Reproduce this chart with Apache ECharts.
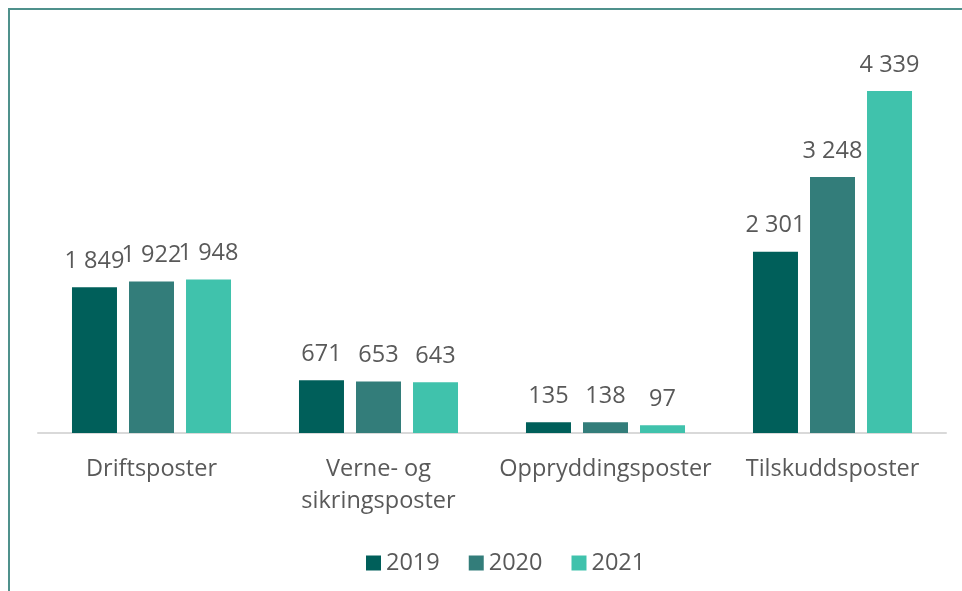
<!DOCTYPE html>
<html>
<head>
<meta charset="utf-8">
<script src="https://cdn.jsdelivr.net/npm/echarts@6/dist/echarts.min.js"></script>
<style>
html,body{margin:0;padding:0;background:#fff;}
#chart{width:962px;height:591px;}
</style>
</head>
<body>
<div id="chart"></div>
<script>
const categories = ['Driftsposter', 'Verne- og\nsikringsposter', 'Oppryddingsposter', 'Tilskuddsposter'];
const seriesNames = ['2019', '2020', '2021'];
const values2019 = [1849, 671, 135, 2301];
const values2020 = [1922, 653, 138, 3248];
const values2021 = [1948, 643, 97, 4339];
const colors = ['#005f5a', '#337d7a', '#40c2ac'];

const fmt = v => String(v).replace(/\B(?=(\d{3})+(?!\d))/g, ' ');
const font = "'Open Sans', 'Noto Sans', sans-serif";
const chart = echarts.init(document.getElementById('chart'));
const data = [values2019, values2020, values2021];

chart.setOption({
  animation: false,
  textStyle: { fontFamily: font },
  graphic: [{
    type: 'rect',
    shape: { x: 9, y: 9, width: 1000, height: 1000 },
    style: { fill: 'none', stroke: '#4f918c', lineWidth: 2 }
  }],
  legend: {
    left: 361, top: 546,
    icon: 'rect', itemWidth: 15, itemHeight: 15, itemGap: 29, itemTextGap: 7,
    textStyle: { fontSize: 23.5, color: '#595959', fontFamily: font },
    data: seriesNames
  },
  grid: { left: 38, right: 16, top: 39, bottom: 591 - 433, containLabel: false },
  xAxis: {
    type: 'category', data: categories,
    axisLine: { lineStyle: { color: '#d9d9d9', width: 2 } },
    axisTick: { show: false },
    axisLabel: { interval: 0, fontSize: 23.5, color: '#595959', margin: 20, lineHeight: 32, fontFamily: font }
  },
  yAxis: {
    type: 'value', min: 0, max: 5000,
    show: false, splitLine: { show: false }
  },
  series: seriesNames.map((name, i) => ({
    name, type: 'bar', data: data[i],
    barWidth: 45, barGap: '26.7%',
    itemStyle: { color: colors[i] },
    label: {
      show: true, position: 'top', distance: 14,
      fontSize: 23.5, color: '#595959', fontFamily: font,
      formatter: p => fmt(p.value)
    }
  }))
});
</script>
</body>
</html>
